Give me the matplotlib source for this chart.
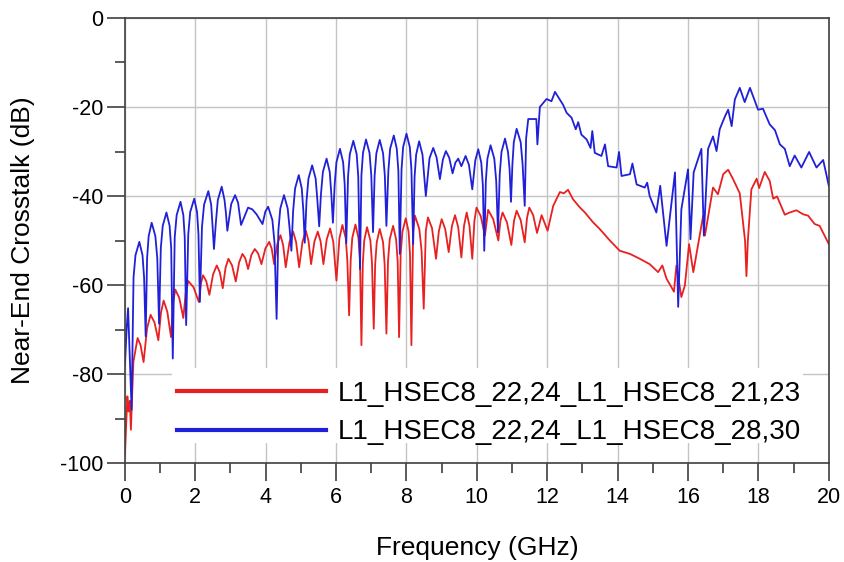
import numpy as np
import matplotlib
matplotlib.use('Agg')
from matplotlib import pyplot as plt
from matplotlib.patches import Rectangle
from matplotlib.ticker import MultipleLocator

plt.rcParams['font.family'] = ['Liberation Sans', 'DejaVu Sans']
plt.rcParams['axes.unicode_minus'] = False

# readings: frequency (GHz) and crosstalk (dB)
red_freq = [0.00, 0.05, 0.07, 0.10, 0.14, 0.17, 0.24, 0.36, 0.53, 0.73, 0.95, 1.10, 1.31, 1.43,
            1.66, 1.80, 2.10, 2.22, 2.40, 2.61, 2.78, 2.94, 3.15, 3.34, 3.50, 3.69, 3.88, 4.10,
            4.24, 4.42, 4.57, 4.78, 4.95, 5.14, 5.29, 5.48, 5.64, 5.83, 6.01, 6.18, 6.37, 6.55,
            6.72, 6.88, 7.07, 7.24, 7.43, 7.62, 7.79, 7.98, 8.14, 8.24, 8.49, 8.61, 8.84, 9.00,
            9.20, 9.38, 9.56, 9.71, 9.87, 9.99, 10.23, 10.32, 10.61, 10.73, 10.98, 11.13, 11.36,
            11.49, 11.71, 11.84, 12.01, 12.17, 12.36, 12.47, 12.59, 12.73, 12.93, 13.07, 13.30,
            13.49, 13.78, 14.06, 14.35, 14.63, 14.91, 15.15, 15.27, 15.39, 15.53, 15.60, 15.67,
            15.81, 15.91, 16.03, 16.15, 16.43, 16.48, 16.71, 16.85, 17.00, 17.14, 17.28, 17.47,
            17.62, 17.66, 17.70, 17.80, 17.95, 18.02, 18.18, 18.32, 18.42, 18.53, 18.75, 18.89,
            19.08, 19.27, 19.41, 19.60, 19.74, 20.00]
red_db = [-98.0, -88.4, -85.0, -88.4, -86.0, -92.5, -77.3, -71.9, -77.3, -66.7, -72.4, -63.5, -71.7, -61.0,
          -67.4, -59.1, -63.8, -57.8, -62.2, -55.6, -60.7, -54.1, -59.2, -53.0, -56.4, -51.9, -55.3, -50.3,
          -55.3, -48.8, -56.0, -48.0, -56.0, -47.8, -55.3, -48.0, -55.3, -47.3, -59.0, -46.5, -66.8, -46.4,
          -73.5, -47.0, -69.8, -47.4, -70.9, -46.7, -71.7, -45.0, -73.5, -44.4, -65.3, -44.8, -54.1, -45.2,
          -52.6, -44.3, -53.8, -43.7, -54.1, -42.6, -48.9, -43.1, -50.0, -43.7, -51.0, -43.3, -50.4,
          -42.6, -48.3, -44.3, -47.8, -42.2, -39.1, -39.4, -38.6, -40.7, -42.6, -43.7, -45.9,
          -47.4, -50.0, -52.3, -53.0, -54.1, -55.3, -57.1, -55.6, -58.6, -60.5, -61.5, -55.6,
          -62.7, -60.1, -50.8, -57.1, -44.4, -48.9, -38.1, -39.6, -35.1, -34.1, -36.2, -39.4,
          -50.0, -58.0, -50.0, -38.5, -36.1, -38.2, -34.6, -36.6, -40.6, -40.1, -44.2, -43.7,
          -43.2, -44.1, -44.4, -46.3, -46.7, -50.8]
# extra points read on the rounded flanks of the lobes
red_flank_freq = [0.445, 0.63, 0.84, 1.025, 1.205, 1.37, 1.545, 1.73, 1.95, 2.16, 2.31, 2.505, 2.695,
                  2.86, 3.045, 3.245, 3.42, 3.595, 3.785, 3.99, 4.17, 4.33, 4.495, 4.675, 4.865, 5.045,
                  5.215, 5.385, 5.56, 5.735, 5.92, 6.095, 6.275, 6.32, 6.46, 6.415, 6.635, 6.68, 6.80,
                  6.76, 6.975, 7.02, 7.155, 7.11, 7.335, 7.38, 7.525, 7.475, 7.705, 7.75, 7.885, 7.835,
                  8.06, 8.10, 8.19, 8.365, 8.43, 8.55, 8.725, 8.92, 9.10, 9.29, 9.47, 9.635, 9.79, 9.93,
                  10.11, 10.465, 10.67, 10.855, 11.055, 11.245, 11.425, 11.60]
red_flank_db = [-73.5, -69.7, -68.4, -66.2, -66.0, -64.0, -62.9, -61.6, -60.5, -59.6, -59.1, -57.6, -57.1,
                -56.1, -55.6, -54.9, -54.0, -53.2, -52.9, -51.8, -51.8, -50.8, -51.0, -50.4, -50.4, -50.3,
                -50.0, -50.2, -50.2, -49.7, -50.3, -49.5, -49.5, -54.5, -49.4, -54.4, -49.4, -54.4, -50.0,
                -55.0, -50.0, -55.0, -50.4, -55.4, -50.4, -55.4, -49.7, -54.7, -49.7, -54.7, -48.0, -53.0,
                -48.0, -53.0, -48.0, -47.4, -52.4, -47.8, -47.2, -47.9, -47.4, -46.8, -47.0, -46.7, -46.7, -45.6,
                -44.5, -45.2, -45.6, -45.9, -45.6, -45.4, -44.9, -44.3]

blue_freq = [0.00, 0.05, 0.09, 0.19, 0.41, 0.59, 0.76, 0.97, 1.18, 1.36, 1.58, 1.74, 1.97, 2.13, 2.37,
             2.53, 2.75, 2.91, 3.13, 3.30, 3.50, 3.74, 3.91, 4.07, 4.31, 4.52, 4.73, 4.94, 5.11, 5.32,
             5.52, 5.73, 5.91, 6.11, 6.29, 6.49, 6.68, 6.85, 7.05, 7.24, 7.43, 7.64, 7.81, 8.00, 8.19,
             8.36, 8.55, 8.76, 8.95, 9.12, 9.31, 9.47, 9.56, 9.68, 9.87, 10.04, 10.21, 10.39, 10.60,
             10.80, 10.97, 11.13, 11.36, 11.46, 11.69, 11.72, 11.79, 11.98, 12.12, 12.22, 12.45, 12.55,
             12.69, 12.81, 12.88, 12.97, 13.12, 13.23, 13.28, 13.35, 13.54, 13.64, 13.73, 13.97, 14.04,
             14.11, 14.35, 14.42, 14.54, 14.77, 14.84, 14.91, 15.10, 15.21, 15.39, 15.63, 15.72, 15.81,
             16.00, 16.07, 16.16, 16.38, 16.45, 16.57, 16.71, 16.81, 16.90, 17.05, 17.14, 17.24, 17.33,
             17.47, 17.61, 17.76, 17.99, 18.13, 18.32, 18.47, 18.61, 18.75, 18.89, 19.03, 19.22, 19.44,
             19.65, 19.84, 20.00]
blue_db = [-78.0, -69.8, -65.2, -88.0, -50.3, -71.5, -46.0, -68.7, -43.7, -76.5, -41.3, -69.0, -40.6, -63.8, -38.9,
           -51.9, -37.9, -47.8, -39.8, -46.5, -42.6, -44.1, -46.3, -42.4, -67.6, -39.8, -52.3, -35.3, -50.5, -33.1,
           -46.8, -31.6, -46.0, -29.4, -50.6, -27.6, -56.4, -27.3, -48.1, -27.4, -46.7, -26.4, -53.0, -26.0, -50.8,
           -27.7, -40.0, -29.2, -36.2, -29.9, -34.9, -31.6, -33.3, -31.0, -38.5, -29.5, -52.3, -28.6, -48.2,
           -27.1, -41.3, -24.9, -42.2, -22.7, -22.7, -28.4, -20.0, -18.2, -18.7, -16.6, -19.5, -21.3,
           -22.4, -25.0, -23.4, -26.2, -27.3, -29.2, -25.4, -30.3, -31.0, -28.4, -33.3, -33.6, -30.1,
           -35.5, -35.1, -32.7, -37.4, -38.1, -37.0, -40.0, -43.7, -37.7, -51.2, -34.7, -64.9, -43.0,
           -34.0, -49.7, -34.7, -29.4, -48.9, -29.4, -26.6, -29.9, -25.0, -22.1, -20.6, -24.3, -18.3,
           -15.7, -18.9, -15.7, -20.6, -20.4, -23.9, -25.2, -28.4, -29.4, -33.3, -30.9, -33.6, -30.1,
           -33.6, -31.9, -37.7]
blue_flank_freq = [0.245, 0.30, 0.50, 0.545, 0.63, 0.675, 0.865, 0.92, 1.02, 1.075, 1.27, 1.315, 1.415, 1.47,
                   1.66, 1.70, 1.80, 1.855, 2.05, 2.09, 2.19, 2.25, 2.45, 2.49, 2.585, 2.64, 2.83, 2.87,
                   3.02, 3.215, 3.62, 3.99, 4.19, 4.25, 4.36, 4.415, 4.625, 4.68, 4.78, 4.835, 5.025, 5.07,
                   5.16, 5.215, 5.42, 5.47, 5.57, 5.625, 5.82, 5.865, 5.96, 6.01, 6.20, 6.245, 6.34, 6.39,
                   6.585, 6.63, 6.72, 6.765, 6.95, 7.00, 7.095, 7.145, 7.335, 7.385, 7.485, 7.535, 7.725,
                   7.77, 7.86, 7.905, 8.095, 8.14, 8.23, 8.275, 8.455, 8.50, 8.655, 8.855, 9.035, 9.215,
                   9.39, 9.775, 9.955, 10.125, 10.17, 10.255, 10.30, 10.495, 10.55, 10.65, 10.70, 10.885,
                   10.93, 11.01, 11.05, 11.245, 11.30, 11.40]
blue_flank_db = [-58.3, -53.3, -53.3, -58.3, -54.0, -49.0, -49.0, -54.0, -51.7, -46.7, -46.7, -51.7, -49.3, -44.3,
                 -44.3, -49.3, -48.6, -43.6, -43.6, -48.6, -46.9, -41.9, -41.9, -46.7, -45.9, -40.9, -40.9, -43.8,
                 -41.8, -41.5, -43.0, -43.5, -45.4, -50.4, -47.8, -42.8, -42.8, -47.3, -43.3, -38.3, -38.3, -43.3,
                 -41.1, -36.1, -36.1, -41.1, -39.6, -34.6, -34.6, -39.6, -37.4, -32.4, -32.4, -37.4, -35.6, -30.6,
                 -30.6, -35.6, -35.3, -30.3, -30.3, -35.3, -35.4, -30.4, -30.4, -35.4, -34.4, -29.4, -29.4,
                 -34.4, -34.0, -29.0, -29.0, -34.0, -35.7, -30.7, -30.7, -35.0, -31.5, -31.3, -31.8, -31.4,
                 -32.5, -33.0, -32.0, -32.5, -37.5, -36.6, -31.6, -31.6, -36.6, -35.1, -30.1, -30.1,
                 -34.0, -32.9, -27.9, -27.9, -32.9, -27.0]

red_label = 'L1_HSEC8_22,24_L1_HSEC8_21,23'
blue_label = 'L1_HSEC8_22,24_L1_HSEC8_28,30'


def merged(f1, d1, f2, d2):
    f = np.array(f1 + f2)
    d = np.array(d1 + d2)
    order = np.argsort(f, kind='stable')
    return f[order], d[order]


rf, rd = merged(red_freq, red_db, red_flank_freq, red_flank_db)
bf, bd = merged(blue_freq, blue_db, blue_flank_freq, blue_flank_db)

fig = plt.figure(figsize=(8.44, 5.62), dpi=100)
ax = fig.add_axes([0.148, 0.176, 0.834, 0.792])

ax.plot(rf, rd, color='#e82020', lw=1.3, label=red_label, zorder=2)
ax.plot(bf, bd, color='#2020d8', lw=1.3, label=blue_label, zorder=2)

ax.set_xlim(0, 20)
ax.set_ylim(-100, 0)
ax.xaxis.set_major_locator(MultipleLocator(2))
ax.xaxis.set_minor_locator(MultipleLocator(1))
ax.yaxis.set_major_locator(MultipleLocator(20))
ax.yaxis.set_minor_locator(MultipleLocator(10))
ax.grid(True, which='major', color='#c4c4c4', lw=1.0)

for s in ax.spines.values():
    s.set_color('#404040')
    s.set_linewidth(1.2)
ax.tick_params(which='major', direction='out', length=13, width=1.2, color='#404040',
               labelsize=15.5, pad=4)
ax.tick_params(which='minor', direction='out', length=7, width=1.2, color='#404040')
ax.tick_params(axis='y', which='major', pad=2.5)

ax.set_xlabel('Frequency (GHz)', fontsize=19)
ax.set_ylabel('Near-End Crosstalk (dB)', fontsize=19)
ax.xaxis.set_label_coords(0.5, -0.163)
ax.yaxis.set_label_coords(-0.128, 0.5)

# white legend panel covering the grid
ax.add_patch(Rectangle((0.067, 0.045), 0.896, 0.168, transform=ax.transAxes,
                       facecolor='white', edgecolor='none', zorder=1.8))
leg = ax.legend(loc='center left', bbox_to_anchor=(0.0739, 0.1124), frameon=False,
                fontsize=20, borderpad=0, borderaxespad=0, handlelength=5.36,
                handletextpad=0.43, labelspacing=0.45)
for ln in leg.get_lines():
    ln.set_linewidth(3)

fig.savefig('out.png', dpi=100)
